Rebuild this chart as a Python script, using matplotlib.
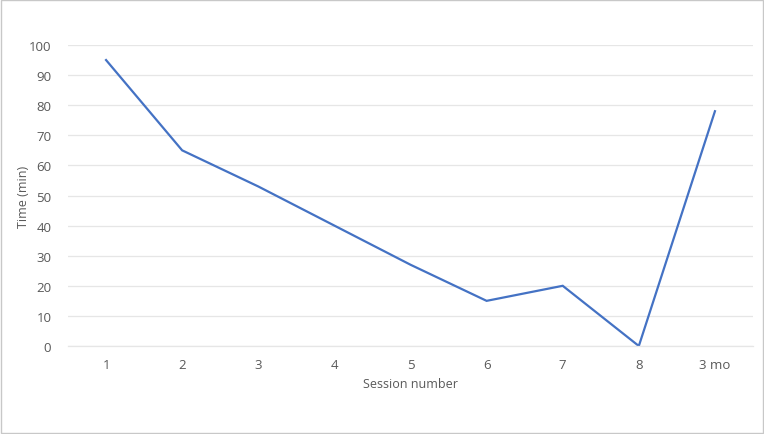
import matplotlib.pyplot as plt
from matplotlib.patches import Rectangle

sessions = ["1", "2", "3", "4", "5", "6", "7", "8", "3 mo"]
times = [95, 65, 53, 40, 27, 15, 20, 0, 78]
y_ticks = list(range(0, 101, 10))

plt.rcParams['font.family'] = ['Open Sans', 'DejaVu Sans']

fig = plt.figure(figsize=(7.64, 4.35), dpi=100)
ax = fig.add_axes([68 / 764, 88 / 435, 685 / 764, 301 / 435])

x = list(range(len(sessions)))
ax.plot(x, times, color="#4472C4", linewidth=1.6, solid_joinstyle="miter")

ax.set_xlim(-0.5, len(sessions) - 0.5)
ax.set_ylim(0, 100)
ax.set_yticks(y_ticks)
ax.set_xticks(x)
ax.set_xticklabels(sessions)
ax.grid(axis="y", color="#E6E6E6", linewidth=0.9)
ax.set_axisbelow(True)
for s in ["top", "right", "left"]:
    ax.spines[s].set_visible(False)
ax.spines["bottom"].set_color("#E6E6E6")
ax.spines["bottom"].set_linewidth(0.9)
ax.tick_params(length=0, labelsize=9.5, labelcolor="#595959")
ax.tick_params(axis="x", pad=9)
ax.tick_params(axis="y", pad=12)
ax.set_xlabel("Session number", fontsize=9, color="#595959", labelpad=4)
ax.set_ylabel("Time (min)", fontsize=9, color="#595959", labelpad=-1)

# thin grey frame around the whole chart
fig.patches.append(Rectangle((1 / 764, 1 / 435), 762 / 764, 433 / 435,
                             transform=fig.transFigure, fill=False,
                             edgecolor="#C8C8C8", linewidth=1))

fig.savefig("out.png", dpi=100)
